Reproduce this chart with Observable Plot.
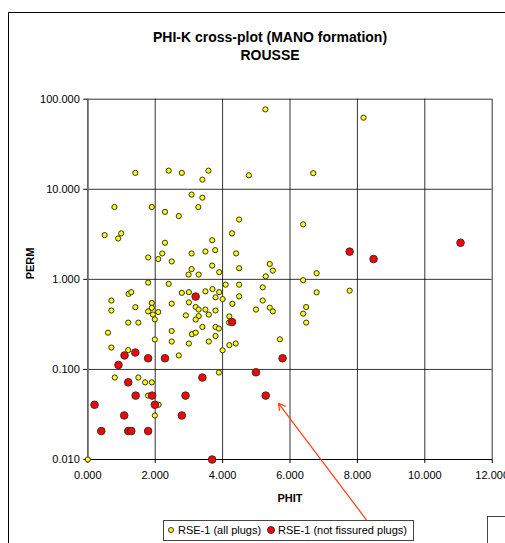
<!DOCTYPE html>
<html><head><meta charset="utf-8">
<script src="https://cdn.jsdelivr.net/npm/d3@7"></script>
<script src="https://cdn.jsdelivr.net/npm/@observablehq/plot@0.6"></script>
<style>
html,body{margin:0;padding:0;background:#fff;overflow:hidden;}
#wrap{position:relative;width:505px;height:543px;overflow:hidden;font-family:"Liberation Sans",Arial,sans-serif;color:#000;}
#frame{position:absolute;left:8px;top:12px;width:600px;height:600px;border:1px solid #000;box-sizing:border-box;}
#title{position:absolute;left:0;width:540px;top:28px;text-align:center;font-weight:bold;font-size:14px;line-height:18px;}
#chart{position:absolute;left:0;top:0;width:560px;}
#chart svg{max-width:none !important;}
#legend{position:absolute;left:163px;top:520px;width:251px;height:21px;border:1px solid #444;box-sizing:border-box;background:#fff;font-size:11px;}
#legend .item{position:absolute;top:0;height:19px;line-height:19px;white-space:nowrap;}
#legend svg{position:absolute;top:5px;}
#other{position:absolute;left:487px;top:516px;width:100px;height:100px;border:1px solid #444;background:#fff;}
</style>
</head><body>
<div id="wrap">
  <div id="frame"></div>
  <div id="title"></div>
  <div id="chart"></div>
  <div id="legend"></div>
  <div id="other"></div>
</div>
<script>
// ---- data ----
const titleLines = ["PHI-K cross-plot (MANO formation)", "ROUSSE"];
const xLabel = "PHIT";
const yLabel = "PERM";
const xTicks = [0, 2, 4, 6, 8, 10, 12];
const yTicks = [0.01, 0.1, 1, 10, 100];
const seriesNames = ["RSE-1 (all plugs)", "RSE-1 (not fissured plugs)"];
const seriesColors = ["#FFFF00", "#FF0000"];

const phitAll = [1.41,2.40,2.79,3.58,3.40,4.78,5.27,8.18,6.69,3.08,3.40,0.79,1.90,3.28,2.29,2.70,4.49,6.39,0.50,0.99,0.90,4.28,2.29,3.69,3.78,3.49,1.79,2.21,2.09,2.49,3.08,4.40,3.69,3.08,2.99,3.29,3.90,4.49,5.40,5.49,5.28,6.79,6.39,1.79,2.40,4.09,4.49,5.19,7.77,6.79,1.21,1.29,2.79,3.00,3.49,3.70,3.90,0.70,0.70,1.41,1.90,1.90,1.79,2.09,1.93,1.99,1.20,1.50,0.60,1.99,0.70,1.20,3.79,4.00,4.49,2.49,3.00,4.29,3.20,3.29,3.49,3.79,3.59,2.91,3.29,3.20,4.20,4.19,3.40,3.79,3.89,2.49,3.09,3.20,3.79,2.49,3.00,3.59,4.20,4.39,2.70,4.00,3.89,5.19,4.99,5.40,5.49,6.48,6.39,6.48,5.70,0.80,1.50,1.70,1.90,1.79,2.10,1.99,0.00];
const permAll = [15.2,16.1,15.2,16.1,12.8,14.3,77.1,62.3,15.1,8.73,8.07,6.35,6.35,6.35,5.61,5.04,4.61,4.08,3.10,3.24,2.84,3.24,2.55,2.72,2.11,2.04,1.75,1.94,1.68,1.58,1.94,1.94,1.42,1.30,1.13,1.13,1.20,1.33,1.48,1.25,1.08,1.17,0.98,0.92,0.89,0.873,0.873,0.815,0.749,0.717,0.690,0.721,0.708,0.721,0.736,0.780,0.721,0.582,0.451,0.491,0.546,0.483,0.441,0.434,0.407,0.360,0.331,0.331,0.256,0.215,0.175,0.164,0.631,0.604,0.648,0.537,0.555,0.535,0.493,0.462,0.462,0.451,0.406,0.398,0.391,0.358,0.388,0.331,0.296,0.296,0.284,0.267,0.246,0.256,0.235,0.204,0.194,0.204,0.186,0.194,0.143,0.163,0.0924,0.582,0.462,0.485,0.441,0.493,0.416,0.331,0.216,0.0813,0.0813,0.0719,0.0719,0.0512,0.0405,0.0308,0.010];

const phitNF = [3.20,4.28,1.09,1.41,1.79,2.29,0.91,3.40,1.20,1.42,1.91,2.90,0.20,1.99,1.08,2.79,0.40,1.20,1.29,1.79,3.69,4.99,5.28,5.78,7.77,8.48,11.06];
const permNF = [0.644,0.336,0.143,0.154,0.133,0.133,0.112,0.0813,0.0719,0.0512,0.0512,0.0512,0.0405,0.0405,0.0308,0.0308,0.0207,0.0207,0.0207,0.0207,0.010,0.0929,0.0512,0.133,2.03,1.68,2.55];

// annotation arrow (data coordinates)
const arrowFromPhit = [8.30], arrowFromPerm = [0.00206];
const arrowToPhit = [5.66], arrowToPerm = [0.0421];

// ---- build ----
const allPts = phitAll.map((x, i) => ({x, y: permAll[i]}));
const nfPts = phitNF.map((x, i) => ({x, y: permNF[i]}));
const arrows = arrowFromPhit.map((x1, i) => ({x1, y1: arrowFromPerm[i], x2: arrowToPhit[i], y2: arrowToPerm[i]}));

document.getElementById("title").innerHTML = titleLines.map(t => `<div>${t}</div>`).join("");

const fmt = d3.format(".3f");
const chart = Plot.plot({
  width: 560, height: 543,
  marginLeft: 87.3, marginRight: 68.3, marginTop: 98.7, marginBottom: 84,
  style: {fontFamily: "'Liberation Sans', Arial, sans-serif", fontSize: "11px", color: "#000", background: "transparent", overflow: "visible", maxWidth: "none"},
  x: {domain: [0, 12], ticks: xTicks, tickFormat: fmt, label: null, tickSize: 4, tickPadding: 8},
  y: {type: "log", domain: [0.01, 100], ticks: yTicks, tickFormat: fmt, label: null, tickSize: 4, tickPadding: 4},
  marks: [
    Plot.ruleX(xTicks, {stroke: "#000", strokeOpacity: 0.8}),
    Plot.ruleY(yTicks, {stroke: "#000", strokeOpacity: 0.8}),
    Plot.ruleX([0], {stroke: "#666", strokeWidth: 1.6}),
    Plot.ruleY([0.01], {stroke: "#000", strokeWidth: 1}),
    Plot.arrow(arrows, {x1: "x1", y1: "y1", x2: "x2", y2: "y2", stroke: "#FF3C14", strokeWidth: 1.2, headLength: 9}),
    Plot.dot(allPts, {x: "x", y: "y", r: 2.6, fill: seriesColors[0], stroke: "#333", strokeWidth: 1}),
    Plot.dot(nfPts, {x: "x", y: "y", r: 3.8, fill: seriesColors[1], stroke: "#333", strokeWidth: 1}),
    Plot.text([xLabel], {frameAnchor: "bottom", dy: 42, fontWeight: "bold", fontSize: 11}),
    Plot.text([yLabel], {frameAnchor: "left", dx: -57, rotate: -90, fontWeight: "bold", fontSize: 11})
  ]
});
document.getElementById("chart").appendChild(chart);

// legend
const legend = document.getElementById("legend");
const legendPos = [{c: 7, t: 14}, {c: 107, t: 114}];
const radii = [2.5, 3.5];
seriesNames.forEach((name, i) => {
  const s = document.createElementNS("http://www.w3.org/2000/svg", "svg");
  s.setAttribute("width", 10); s.setAttribute("height", 10);
  s.style.left = (legendPos[i].c - 5) + "px";
  s.style.top = "4px";
  s.innerHTML = `<circle cx="5" cy="5" r="${radii[i]}" fill="${seriesColors[i]}" stroke="#333" stroke-width="1"/>`;
  legend.appendChild(s);
  const span = document.createElement("span");
  span.className = "item";
  span.style.left = legendPos[i].t + "px";
  span.textContent = name;
  legend.appendChild(span);
});
</script>
</body></html>
